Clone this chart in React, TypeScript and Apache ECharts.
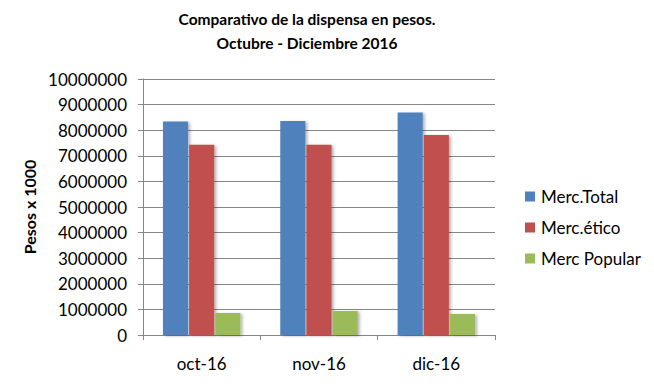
import React, { useEffect, useRef } from "react";
import * as echarts from "echarts";

const categories = ["oct-16", "nov-16", "dic-16"];
const seriesNames = ["Merc.Total", "Merc.ético", "Merc Popular"];
const mercTotal = [8340000, 8360000, 8690000];
const mercEtico = [7430000, 7430000, 7810000];
const mercPopular = [860000, 940000, 820000];
const colors = ["#4F81BD", "#C0504D", "#9BBB59"];

const FONT = "Lato";

export default function App() {
  const ref = useRef<HTMLDivElement>(null);
  useEffect(() => {
    if (!ref.current) return;
    const chart = echarts.init(ref.current, undefined, { renderer: "svg" });
    const dataSets = [mercTotal, mercEtico, mercPopular];
    chart.setOption({
      animation: false,
      backgroundColor: "#ffffff",
      title: {
        text: "Comparativo de la dispensa en pesos.\nOctubre - Diciembre 2016",
        left: 302,
        top: 2,
        textAlign: "center",
        textStyle: {
          fontFamily: FONT,
          fontSize: 15.5,
          fontWeight: "bold",
          color: "#000",
          lineHeight: 24,
        },
      },
      legend: {
        orient: "vertical",
        left: 520,
        top: 183,
        itemWidth: 10,
        itemHeight: 10,
        itemGap: 14,
        icon: "rect",
        textStyle: { fontFamily: FONT, fontSize: 17, color: "#000", padding: [0, 0, 0, 1] },
        data: seriesNames,
      },
      grid: { left: 143, right: 159, top: 79, bottom: 54 },
      xAxis: {
        type: "category",
        data: categories,
        axisLine: { lineStyle: { color: "#868686" } },
        axisTick: { show: true, length: 5, lineStyle: { color: "#868686" } },
        axisLabel: { fontFamily: FONT, fontSize: 17, color: "#000", margin: 20 },
      },
      yAxis: {
        type: "value",
        min: 0,
        max: 10000000,
        interval: 1000000,
        name: "Pesos x 1000",
        nameLocation: "middle",
        nameGap: 106,
        nameTextStyle: { fontFamily: FONT, fontSize: 16, fontWeight: "bold", color: "#000" },
        axisLine: { show: true, lineStyle: { color: "#868686" } },
        axisTick: { show: true, length: 5, lineStyle: { color: "#868686" } },
        axisLabel: {
          fontFamily: FONT,
          fontSize: 17,
          color: "#000",
          margin: 16,
          formatter: (v: number) => String(v),
        },
        splitLine: { lineStyle: { color: "#868686" } },
      },
      series: seriesNames.map((name, i) => ({
        name,
        type: "bar",
        data: dataSets[i],
        barGap: "4%",
        barCategoryGap: "34%",
        itemStyle: {
          color: colors[i],
          shadowBlur: 3,
          shadowOffsetX: 2,
          shadowOffsetY: 1,
          shadowColor: "rgba(0,0,0,0.3)",
        },
      })),
    });
    return () => chart.dispose();
  }, []);
  return <div ref={ref} style={{ width: 654, height: 389, position: "absolute", left: 0, top: 0 }} />;
}
